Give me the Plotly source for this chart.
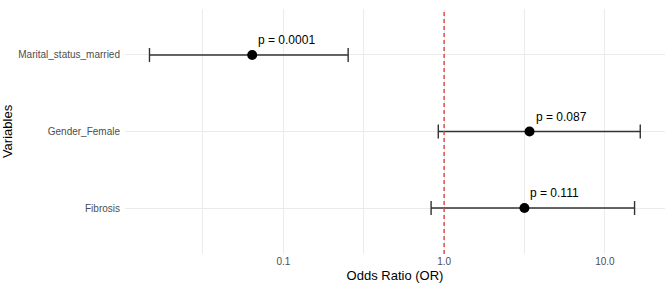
import math
import plotly.graph_objects as go

variables = ["Fibrosis", "Gender_Female", "Marital_status_married"]
odds_ratio = [3.16, 3.40, 0.064]
ci_lower = [0.83, 0.92, 0.0147]
ci_upper = [15.3, 16.6, 0.253]
p_labels = ["p = 0.111", "p = 0.087", "p = 0.0001"]

x_ticks = [0.1, 1.0, 10.0]
x_ticktext = ["0.1", "1.0", "10.0"]
minor_ticks = [0.0316, 0.316, 3.16]

FONT = "Liberation Sans, Arial, sans-serif"

fig = go.Figure()
fig.add_trace(go.Scatter(
    x=odds_ratio, y=variables, mode="markers",
    marker=dict(color="black", size=10),
    error_x=dict(type="data", symmetric=False,
                 array=[u - o for u, o in zip(ci_upper, odds_ratio)],
                 arrayminus=[o - l for o, l in zip(odds_ratio, ci_lower)],
                 color="#333333", thickness=1.4, width=7),
    showlegend=False, hoverinfo="skip",
))

for x, y, t in zip(odds_ratio, variables, p_labels):
    fig.add_annotation(x=math.log10(x), y=y, xref="x", yref="y", text=t, showarrow=False,
                       xanchor="left", yanchor="middle", xshift=4, yshift=15,
                       font=dict(family=FONT, size=12, color="black"))

fig.add_shape(type="line", xref="x", yref="paper", x0=1, x1=1, y0=0, y1=1,
              line=dict(color="#D9473F", width=1.4, dash="4px,3px"), layer="above")

fig.update_layout(
    width=669, height=288,
    margin=dict(l=125, r=4, t=9, b=34),
    paper_bgcolor="white", plot_bgcolor="white",
    font=dict(family=FONT),
    xaxis=dict(type="log", range=[-1.985, 1.374],
               tickvals=x_ticks, ticktext=x_ticktext,
               showgrid=True, gridcolor="#EBEBEB", gridwidth=1,
               zeroline=False, showline=False, ticks="",
               tickfont=dict(size=10, color="#4D4D4D"),
               minor=dict(tickvals=minor_ticks, showgrid=True,
                          gridcolor="#EBEBEB", gridwidth=1, ticks=""),
               title=dict(text="Odds Ratio (OR)", font=dict(size=13, color="black"),
                          standoff=4)),
    yaxis=dict(type="category", categoryorder="array", categoryarray=variables,
               range=[-0.6, 2.6], showgrid=True, gridcolor="#EBEBEB", gridwidth=1,
               zeroline=False, showline=False, ticks="", ticklabelstandoff=4,
               tickfont=dict(size=10, color="#4D4D4D"),
               title=dict(text="Variables", font=dict(size=13, color="black"),
                          standoff=6)),
)

fig.write_html("out.html")
